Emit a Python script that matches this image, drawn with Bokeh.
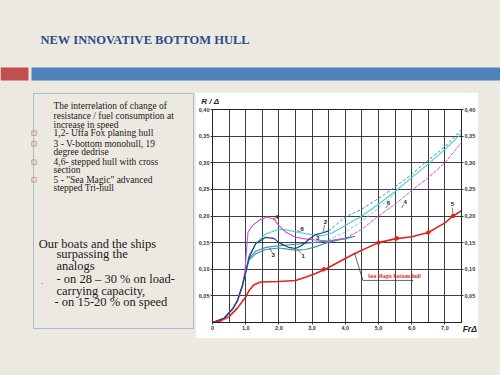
from bokeh.plotting import figure
from bokeh.models import Range1d, LinearAxis, FixedTicker, Spacer, GlobalInlineStyleSheet
from bokeh.layouts import row, column
from bokeh.core.properties import value
from bokeh.embed import file_html
from bokeh.resources import INLINE

# ---------------- data ----------------
title_text = "NEW INNOVATIVE BOTTOM HULL"

x_tick_vals = [0, 1, 2, 3, 4, 5, 6, 7]
x_tick_labels = ["0", "1,0", "2,0", "3,0", "4,0", "5,0", "6,0", "7,0"]
y_tick_vals = [0.05, 0.10, 0.15, 0.20, 0.25, 0.30, 0.35, 0.40]
y_tick_labels = ["0,05", "0,10", "0,15", "0,20", "0,25", "0,30", "0,35", "0,40"]
x_title = "Fr\u0394"
y_title = "R / \u0394"

# curve 5 - Sea Magic (red)
red_fr = [0, 0.25, 0.5, 0.75, 1.0, 1.1, 1.25, 1.45, 2.0, 2.5, 2.8, 3.1, 3.4, 3.9, 4.3, 5.0, 5.5, 6.0, 6.5, 7.0, 7.25, 7.5]
red_r = [0, 0.003, 0.011, 0.027, 0.048, 0.060, 0.071, 0.076, 0.077, 0.079, 0.085, 0.092, 0.100, 0.117, 0.130, 0.150, 0.157, 0.161, 0.169, 0.187, 0.200, 0.210]
red_mark_fr = [3.35, 5.0, 5.55, 6.5, 7.25]
red_mark_r = [0.100, 0.150, 0.158, 0.169, 0.200]

# curve 2 (navy)
navy_fr = [0, 0.35, 0.6, 0.75, 0.9, 1.0, 1.1, 1.3, 1.6, 1.85, 2.0, 2.3, 2.5, 2.7, 2.9, 3.1, 3.3, 3.5]
navy_r = [0, 0.008, 0.025, 0.041, 0.070, 0.094, 0.122, 0.148, 0.160, 0.158, 0.150, 0.141, 0.139, 0.145, 0.156, 0.165, 0.168, 0.172]
navy_d_fr = [3.5, 3.75, 4.0, 4.5, 5.0, 5.4, 6.0, 6.4, 7.0, 7.5]
navy_d_r = [0.172, 0.185, 0.198, 0.213, 0.233, 0.250, 0.278, 0.300, 0.330, 0.362]

# curve 6 (cyan)
cyan_fr = [0, 0.35, 0.6, 0.75, 0.9, 1.0, 1.1, 1.3, 1.6, 2.0, 2.3, 2.6, 3.0, 3.3, 3.6, 4.0, 4.5, 5.0, 5.5, 6.0, 6.5, 7.0, 7.5]
cyan_r = [0, 0.008, 0.025, 0.040, 0.068, 0.094, 0.126, 0.148, 0.166, 0.175, 0.173, 0.169, 0.165, 0.163, 0.168, 0.182, 0.200, 0.222, 0.246, 0.272, 0.298, 0.325, 0.355]
cyan_d_fr = [3.5, 4.0, 4.5, 5.0, 5.5]
cyan_d_r = [0.155, 0.170, 0.190, 0.215, 0.242]

# curve 1 (teal)
teal_fr = [0, 0.35, 0.6, 0.75, 0.9, 1.0, 1.1, 1.3, 1.6, 2.0, 2.5, 2.8, 3.1, 3.4, 3.8, 4.2]
teal_r = [0, 0.008, 0.024, 0.040, 0.068, 0.094, 0.117, 0.129, 0.137, 0.140, 0.136, 0.137, 0.142, 0.149, 0.155, 0.160]

# curve 3 (steel blue)
steel_fr = [0, 0.35, 0.6, 0.75, 0.9, 1.0, 1.1, 1.3, 1.6, 2.0, 2.5, 3.0, 3.5, 4.0, 4.3]
steel_r = [0, 0.008, 0.025, 0.041, 0.069, 0.095, 0.120, 0.134, 0.141, 0.144, 0.147, 0.150, 0.153, 0.158, 0.162]

# curve 4 (magenta)
mag_fr = [0, 0.35, 0.6, 0.75, 0.9, 0.98, 1.03, 1.07, 1.2, 1.43, 1.65, 1.85, 2.0, 2.2, 2.5, 2.8, 3.1, 3.5, 4.0]
mag_r = [0, 0.008, 0.025, 0.040, 0.068, 0.098, 0.140, 0.170, 0.182, 0.193, 0.198, 0.194, 0.182, 0.170, 0.160, 0.157, 0.155, 0.153, 0.158]
mag_d_fr = [4.0, 4.5, 5.0, 5.5, 6.0, 6.5, 7.0, 7.5]
mag_d_r = [0.158, 0.175, 0.200, 0.222, 0.248, 0.272, 0.300, 0.338]

# curve number labels
lab_text = ["4", "6", "2", "3", "3", "1", "6", "4", "5"]
lab_fr = [1.93, 2.70, 3.40, 1.83, 3.17, 2.73, 5.30, 5.80, 7.23]
lab_r = [0.199, 0.176, 0.188, 0.127, 0.159, 0.125, 0.224, 0.226, 0.222]
lead_x0 = [1.90, 2.66, 3.38, 1.80, 2.68, 5.27, 5.76, 7.22]
lead_y0 = [0.194, 0.171, 0.183, 0.131, 0.129, 0.220, 0.222, 0.216]
lead_x1 = [1.82, 2.55, 3.33, 1.72, 2.55, 5.22, 5.70, 7.25]
lead_y1 = [0.196, 0.172, 0.170, 0.140, 0.137, 0.215, 0.215, 0.201]

sea_text = "Sea Magic bottom hull"
sea_fr = 4.68
sea_r = 0.087
sea_lead_x = [4.28, 4.53, 6.05]
sea_lead_r = [0.130, 0.079, 0.079]

# left text block
para_lines = ["The interrelation of change of", "resistance / fuel consumption at", "increase in speed"]
bullet_lines = ["1,2- Uffa Fox planing hull", "3  - V-bottom monohull, 19", "degree dedrise",
                "4,6- stepped hull with cross", "section", "5  - \"Sea Magic\" advanced", "stepped Tri-hull"]
big_lines = ["Our boats and the ships", "surpassing the", "analogs",
             "-  on 28 \u2013 30 % on load-", "carrying capacity,", "- on 15-20 % on speed"]

# ---------------- styling ----------------
BG = "#ECE9E1"
TXT_FONT = "Liberation Serif"

def blank(w, h, fill=BG):
    f = figure(width=w, height=h, x_range=Range1d(0, w), y_range=Range1d(h, 0),
               x_axis_type=None, y_axis_type=None, output_backend="svg",
               toolbar_location=None, min_border=0, title=None)
    f.grid.visible = False
    f.outline_line_color = None
    f.background_fill_color = fill
    f.border_fill_color = fill
    return f

# header (page y 0-92)
head = blank(500, 92)
head.quad(left=[0], right=[28], top=[67], bottom=[80], color="#C0504D", line_color=None)
head.quad(left=[31], right=[500], top=[67], bottom=[80], color="#4F81BD", line_color=None)
head.text(x=[40], y=[39.5], text=[title_text], text_baseline="middle", text_align="left",
          text_font=value(TXT_FONT), text_font_size="12.5px", text_font_style="bold",
          text_color="#2D4B8A")

# left text panel (page x 0-195, y 92-375)
tf = blank(195, 283)
tf.quad(left=[33], right=[193], top=[1], bottom=[236], fill_color=None, line_color="#A9BBD3", line_width=1)
tf.text(x=[53] * 3, y=[13, 23.5, 32], text=para_lines, text_baseline="middle",
        text_font=value(TXT_FONT), text_font_size="9.5px", text_color="#1A1A1A")
b_y = [40.7, 51.3, 59, 69.7, 77.3, 87.3, 95.3]
tf.text(x=[53] * len(bullet_lines), y=b_y, text=bullet_lines, text_baseline="middle",
        text_font=value(TXT_FONT), text_font_size="9.5px", text_color="#1A1A1A")
tf.scatter(x=[33.5] * 4, y=[40.7, 51.3, 69.7, 87.3], marker="square", size=4.5,
           fill_color=None, line_color="#C98A7A", line_width=0.8)
g_x = [38.3, 56, 56, 56, 56, 54]
g_y = [151.3, 161.5, 173, 186.3, 198, 209.7]
tf.text(x=g_x, y=g_y, text=big_lines, text_baseline="middle",
        text_font=value(TXT_FONT), text_font_size="12.5px", text_color="#1A1A1A")
tf.text(x=[40.5], y=[188], text=["."], text_baseline="middle", text_font=value(TXT_FONT),
        text_font_size="9px", text_color="#555555")

# chart (page x 195-478, y 92-338; frame 211-461 x 109-322)
p = figure(width=283, height=246, x_range=Range1d(0, 7.5), y_range=Range1d(0, 0.40),
           output_backend="svg", toolbar_location=None, title=None,
           min_border_left=16, min_border_right=17, min_border_top=17, min_border_bottom=16)
p.background_fill_color = "white"
p.border_fill_color = "white"
p.outline_line_color = "#222222"
p.outline_line_width = 1

def style_axis(ax, ticks, labels):
    ax.ticker = FixedTicker(ticks=ticks)
    ax.major_label_overrides = dict(zip(ticks, labels))
    ax.major_label_text_font = "Liberation Sans"
    ax.major_label_text_font_size = "5.5px"
    ax.major_label_text_font_style = "bold"
    ax.major_label_text_color = "#333333"
    ax.major_tick_in = 0
    ax.major_tick_out = 2
    ax.major_tick_line_color = "#333333"
    ax.minor_tick_line_color = None
    ax.axis_line_color = "#222222"
    ax.major_label_standoff = 1

def title_axis(ax, size, standoff):
    ax.major_label_text_font = "Liberation Sans"
    ax.major_label_text_font_size = size
    ax.major_label_text_font_style = "bold italic"
    ax.major_label_text_color = "#222222"
    ax.axis_line_color = None
    ax.major_tick_line_color = None
    ax.minor_tick_line_color = None
    ax.major_tick_in = 0
    ax.major_tick_out = 0
    ax.major_label_standoff = standoff

style_axis(p.xaxis[0], x_tick_vals, x_tick_labels)
style_axis(p.yaxis[0], y_tick_vals, y_tick_labels)
ry = LinearAxis()
style_axis(ry, y_tick_vals, y_tick_labels)
p.add_layout(ry, "right")

# x title "FrΔ" at the right end of the x-axis row (label-only axis)
xt = LinearAxis(ticker=FixedTicker(ticks=[7.5]),
                major_label_overrides={7.5: "\u00a0" * 7 + x_title})
title_axis(xt, "8.5px", -9)
p.add_layout(xt, "below")

# y title "R / Δ" above the top-left corner (label-only axis)
yt = LinearAxis(ticker=FixedTicker(ticks=[0]),
                major_label_overrides={0: y_title + "\u00a0" * 2})
title_axis(yt, "8px", 4)
p.add_layout(yt, "above")

p.xgrid.ticker = FixedTicker(ticks=[i * 0.5 for i in range(16)])
p.ygrid.ticker = FixedTicker(ticks=y_tick_vals)
p.grid.grid_line_color = "#2A2A2A"
p.grid.grid_line_width = 1
p.grid.grid_line_alpha = 0.9

# curves
p.line(cyan_d_fr, cyan_d_r, line_color="#5FD3DD", line_width=1, line_dash="3 2")
p.line(navy_d_fr, navy_d_r, line_color="#3A8FD0", line_width=1, line_dash="3 2")
p.line(mag_d_fr, mag_d_r, line_color="#D456D6", line_width=1, line_dash="4 1")
p.line(steel_fr, steel_r, line_color="#3E86C4", line_width=1.1)
p.line(teal_fr, teal_r, line_color="#2A9A8E", line_width=1.1)
p.line(cyan_fr, cyan_r, line_color="#45CFD6", line_width=1.1)
p.line(mag_fr, mag_r, line_color="#D24CD4", line_width=1.1)
p.line(navy_fr, navy_r, line_color="#1F3A86", line_width=1.2)
p.line(red_fr, red_r, line_color="#E3231C", line_width=1.6)
p.scatter(red_mark_fr, red_mark_r, size=3.5, color="#E3231C")

# labels
p.segment(x0=lead_x0, y0=lead_y0, x1=lead_x1, y1=lead_y1, line_color="#222222", line_width=0.6)
p.text(x=lab_fr, y=lab_r, text=lab_text, text_align="center", text_baseline="middle",
       text_font=value("Liberation Sans"), text_font_size="6px", text_font_style="bold",
       text_color="#222222")
p.line(sea_lead_x, sea_lead_r, line_color="#222222", line_width=0.7)
p.text(x=[sea_fr], y=[sea_r], text=[sea_text], text_align="left", text_baseline="middle",
       text_font=value(TXT_FONT), text_font_size="5.5px", text_font_style="bold",
       text_color="#E3231C")

layout = column(
    head,
    row(tf, column(p, Spacer(width=283, height=37)), Spacer(width=22, height=283)),
    stylesheets=[GlobalInlineStyleSheet(css="body { background-color: #ECE9E1; margin: 0; }")],
)

open("out.html", "w").write(file_html(layout, INLINE))
